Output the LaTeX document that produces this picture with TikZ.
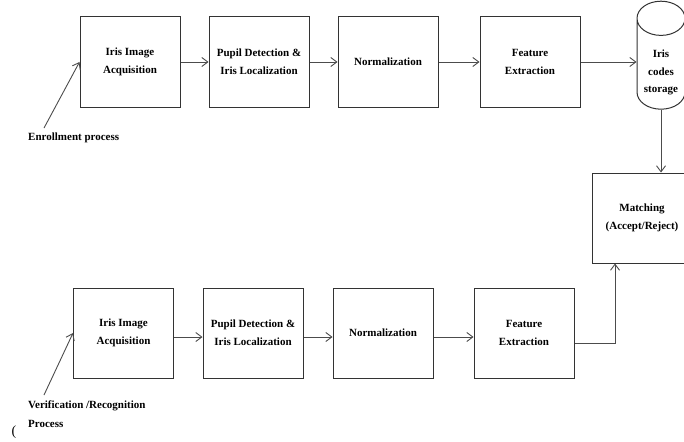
\documentclass[tikz,border=0pt]{standalone}
\usepackage{fontspec}
\setmainfont{Liberation Serif}
\usetikzlibrary{shapes.geometric,arrows.meta}

\begin{document}
\begin{tikzpicture}[x=1pt,y=-1pt,
    blk/.style={draw=black!80,line width=1pt,minimum width=100pt,minimum height=90pt,
      inner sep=0pt,align=center,font=\fontsize{11}{18}\selectfont\bfseries},
    lbl/.style={font=\fontsize{11}{19}\selectfont\bfseries,align=left,inner sep=0pt},
    arr/.style={-{Straight Barb[length=6pt,width=9pt]},draw=black!70,line width=0.9pt}]
  \useasboundingbox (0,0) rectangle (684,441);
  \node[blk] (acq1) at (130,62) {Iris Image\\Acquisition};
  \node[blk] (pup1) at (259,62) {Pupil Detection \&\\Iris Localization};
  \node[blk] (nor1) at (388,62) {Normalization};
  \node[blk] (fea1) at (530,62) {Feature\\Extraction};
  \node[blk,cylinder,shape border rotate=90,aspect=1,minimum width=48pt,
    minimum height=108pt] (store) at (661,64)
    {\raisebox{-10.5pt}[0pt][0pt]{\renewcommand\arraystretch{0.97}\begin{tabular}{@{}c@{}}Iris\\codes\\storage\end{tabular}}};
  \node[blk] (match) at (642,218) {Matching\\(Accept/Reject)};
  \node[blk] (acq2) at (123.5,333) {Iris Image\\Acquisition};
  \node[blk] (pup2) at (253,333) {Pupil Detection \&\\Iris Localization};
  \node[blk] (nor2) at (383,333) {Normalization};
  \node[blk] (fea2) at (524,333) {Feature\\Extraction};
  \draw[arr] (acq1) -- (pup1);
  \draw[arr] (pup1) -- (nor1);
  \draw[arr] (nor1) -- (fea1);
  \draw[arr] (fea1.east) -- (fea1.east -| store.west);
  \draw[arr] (store.south) -- (store.south |- match.north);
  \draw[arr] ([yshift=-4pt]acq2.east) -- ([yshift=-4pt]pup2.west);
  \draw[arr] ([yshift=-4pt]pup2.east) -- ([yshift=-4pt]nor2.west);
  \draw[arr] ([yshift=-4pt]nor2.east) -- ([yshift=-4pt]fea2.west);
  \draw[arr] ([yshift=-10pt]fea2.east) -| ([xshift=-27pt]match.south);
  \node[lbl,anchor=west] (enr) at (28,138) {Enrollment process};
  \coordinate (enrtip) at (44,128);
  \draw[arr] (enrtip) -- (acq1.west);
  \node[lbl,anchor=north west] (ver) at (28,401) {Verification /Recognition\\Process};
  \coordinate (vertip) at (44,395);
  \draw[arr] (vertip) -- (acq2.west);
  \node[font=\fontsize{14}{14}\selectfont] (paren) at (14,432) {(};
\end{tikzpicture}
\end{document}
